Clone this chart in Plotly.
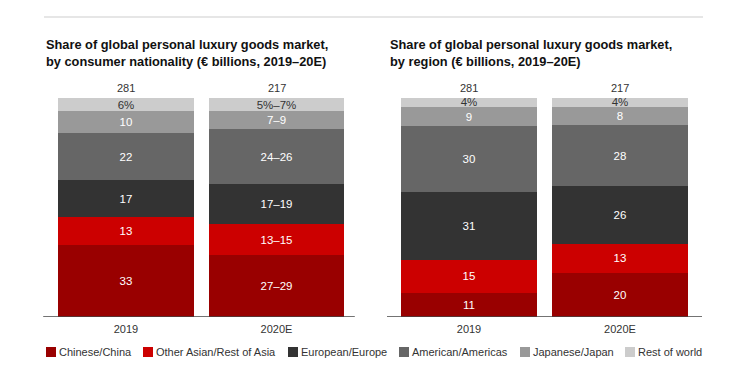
import plotly.graph_objects as go

categories = ["2019", "2020E"]
series_names = ["Chinese/China", "Other Asian/Rest of Asia", "European/Europe",
                "American/Americas", "Japanese/Japan", "Rest of world"]
colors = ["#990000", "#CC0000", "#333333", "#666666", "#999999", "#CCCCCC"]

# Left chart: by consumer nationality (share %, midpoints for ranges)
nat_values = {
    "Chinese/China": [33, 28],
    "Other Asian/Rest of Asia": [13, 14],
    "European/Europe": [17, 18],
    "American/Americas": [22, 25],
    "Japanese/Japan": [10, 8],
    "Rest of world": [6, 6],
}
nat_labels = {
    "Chinese/China": ["33", "27–29"],
    "Other Asian/Rest of Asia": ["13", "13–15"],
    "European/Europe": ["17", "17–19"],
    "American/Americas": ["22", "24–26"],
    "Japanese/Japan": ["10", "7–9"],
    "Rest of world": ["6%", "5%–7%"],
}
# Right chart: by region
reg_values = {
    "Chinese/China": [11, 20],
    "Other Asian/Rest of Asia": [15, 13],
    "European/Europe": [31, 26],
    "American/Americas": [30, 28],
    "Japanese/Japan": [9, 8],
    "Rest of world": [4, 4],
}
reg_labels = {
    "Chinese/China": ["11", "20"],
    "Other Asian/Rest of Asia": ["15", "13"],
    "European/Europe": ["31", "26"],
    "American/Americas": ["30", "28"],
    "Japanese/Japan": ["9", "8"],
    "Rest of world": ["4%", "4%"],
}
totals = ["281", "217"]

title_left = "Share of global personal luxury goods market,<br>by consumer nationality (€ billions, 2019–20E)"
title_right = "Share of global personal luxury goods market,<br>by region (€ billions, 2019–20E)"

FONT = "Liberation Sans, Arial, sans-serif"
W, H = 739, 375

fig = go.Figure()

for panel, (vals, labs) in enumerate([(nat_values, nat_labels), (reg_values, reg_labels)]):
    xa = "x" if panel == 0 else "x2"
    ya = "y" if panel == 0 else "y2"
    for name, col in zip(series_names, colors):
        tc = "#333333" if name == "Rest of world" else "#FFFFFF"
        fig.add_trace(go.Bar(
            x=categories, y=vals[name], name=name,
            marker=dict(color=col, line=dict(width=0)),
            text=labs[name], textposition="inside", insidetextanchor="middle",
            textangle=0, constraintext="none",
            textfont=dict(family=FONT, size=11.5, color=tc),
            width=0.9, xaxis=xa, yaxis=ya, showlegend=False,
            hoverinfo="skip",
        ))

def px_x(p):
    return p / W

def px_y(p):
    return 1 - p / H

ydom = [px_y(317), px_y(98)]
fig.update_layout(
    width=W, height=H,
    margin=dict(l=0, r=0, t=0, b=0),
    paper_bgcolor="white", plot_bgcolor="white",
    barmode="stack", barnorm="percent",
    uniformtext=dict(minsize=8, mode="show"),
    xaxis=dict(type="category", domain=[px_x(43.2), px_x(354.8)], range=[-0.55, 1.52],
               showgrid=False, zeroline=False, showline=False, ticklabelstandoff=4,
               tickfont=dict(family=FONT, size=11, color="#333333"), ticks=""),
    xaxis2=dict(type="category", domain=[px_x(387), px_x(702)], range=[-0.543, 1.543],
                showgrid=False, zeroline=False, showline=False, ticklabelstandoff=4,
                tickfont=dict(family=FONT, size=11, color="#333333"), ticks=""),
    yaxis=dict(domain=ydom, range=[0, 100], visible=False, fixedrange=True),
    yaxis2=dict(domain=ydom, range=[0, 100], visible=False, anchor="x2"),
    showlegend=False,
)

shapes = []
# top separator line
shapes.append(dict(type="line", xref="paper", yref="paper",
                   x0=px_x(44), x1=px_x(703), y0=px_y(17), y1=px_y(17),
                   line=dict(color="#E6E6E6", width=2)))
# baselines
shapes.append(dict(type="line", xref="x domain", yref="y", x0=0, x1=1, y0=0, y1=0,
                   line=dict(color="#444444", width=1.5)))
shapes.append(dict(type="line", xref="x2 domain", yref="y2", x0=0, x1=1, y0=0, y1=0,
                   line=dict(color="#444444", width=1.5)))

annotations = []
# titles
for t, x0 in [(title_left, 44), (title_right, 388)]:
    annotations.append(dict(text="<b>" + t + "</b>", xref="paper", yref="paper",
                            x=px_x(x0), y=px_y(35), xanchor="left", yanchor="top",
                            align="left", showarrow=False,
                            font=dict(family=FONT, size=12.8, color="#111111")))
# totals
for xa, ya in [("x", "y"), ("x2", "y2")]:
    for i, t in enumerate(totals):
        annotations.append(dict(text=t, xref=xa, yref=ya, x=i, y=100, yshift=2,
                                xanchor="center", yanchor="bottom", showarrow=False,
                                font=dict(family=FONT, size=11, color="#333333")))

# legend
leg_x = [46, 143, 288, 399, 520, 625]
leg_y = 352
for name, col, lx in zip(series_names, colors, leg_x):
    shapes.append(dict(type="rect", xref="paper", yref="paper",
                       x0=px_x(lx), x1=px_x(lx + 10), y0=px_y(leg_y - 5), y1=px_y(leg_y + 5),
                       fillcolor=col, line=dict(width=0)))
    annotations.append(dict(text=name, xref="paper", yref="paper",
                            x=px_x(lx + 11), y=px_y(leg_y), xanchor="left", yanchor="middle",
                            showarrow=False,
                            font=dict(family=FONT, size=11, color="#333333")))

fig.update_layout(shapes=shapes, annotations=annotations)
fig.write_html("out.html", config={"displayModeBar": False},
               post_script="document.body.style.margin='0';document.body.style.overflow='hidden';")
